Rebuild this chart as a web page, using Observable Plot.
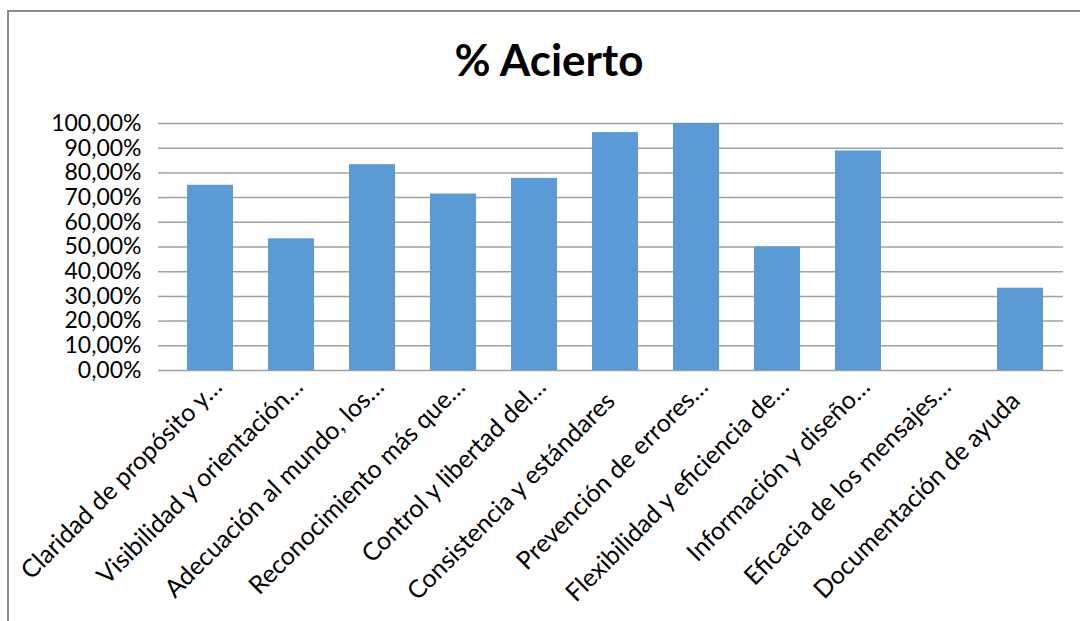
<!DOCTYPE html>
<html>
<head>
<meta charset="utf-8">
<script src="https://cdn.jsdelivr.net/npm/d3@7"></script>
<script src="https://cdn.jsdelivr.net/npm/@observablehq/plot@0.6"></script>
<style>
  html, body { margin: 0; padding: 0; background: #fff; }
  body { width: 1080px; height: 621px; position: relative; overflow: hidden; font-family: Lato, "Open Sans", sans-serif; }
  #border { position: absolute; left: 7px; top: 10px; width: 1080px; height: 620px;
            border-top: 2px solid #8c8c8c; border-left: 2px solid #8c8c8c; pointer-events: none; box-sizing: border-box; }
  #title { position: relative; height: 100px; }
  #title span { position: absolute; top: 33px; left: 549px; transform: translateX(-50%);
                font: bold 44px/53px Lato, sans-serif; color: #000; white-space: nowrap; }
  #chart svg { display: block; }
</style>
</head>
<body>
<div id="title"><span>% Acierto</span></div>
<div id="chart"></div>
<div id="border"></div>
<script>
const categories = [
  "Claridad de propósito y…",
  "Visibilidad y orientación…",
  "Adecuación al mundo, los…",
  "Reconocimiento más que…",
  "Control y libertad del…",
  "Consistencia y estándares",
  "Prevención de errores…",
  "Flexibilidad y eficiencia de…",
  "Información y diseño…",
  "Eficacia de los mensajes…",
  "Documentación de ayuda"
];
const values = [0.75, 0.5333, 0.8333, 0.7143, 0.7778, 0.963, 1.0, 0.5, 0.8889, 0, 0.3333];
const yTicks = [0, 0.1, 0.2, 0.3, 0.4, 0.5, 0.6, 0.7, 0.8, 0.9, 1.0];

const data = categories.map((c, i) => ({category: c, value: values[i]}));
const truncated = data.filter(d => d.category.endsWith("…"));
const full = data.filter(d => !d.category.endsWith("…"));
const fmt = d => (d * 100).toFixed(2).replace(".", ",") + "%";
const gridColor = "#a0a0a0";

const chart = Plot.plot({
  width: 1080,
  height: 521,
  marginLeft: 167,
  marginRight: 17,
  marginTop: 23,
  marginBottom: 251,
  style: {fontFamily: "Lato, sans-serif", color: "#000", background: "#fff"},
  x: {domain: categories, paddingInner: 0.43, paddingOuter: 0.215, axis: null},
  y: {domain: [0, 1], axis: null},
  marks: [
    Plot.gridY(yTicks, {stroke: gridColor, strokeOpacity: 1, strokeWidth: 1.5}),
    Plot.axisY(yTicks, {label: null, tickSize: 9, tickPadding: 17, tickFormat: fmt, fontSize: 23, stroke: gridColor, strokeWidth: 1.5, fill: "#000"}),
    Plot.ruleX([0], {frameAnchor: "left", y1: 0, y2: 1, stroke: gridColor, strokeWidth: 1.5}),
    Plot.barY(data, {x: "category", y: "value", fill: "#5B9BD5"}),
    Plot.text(full, {x: "category", text: "category", frameAnchor: "bottom", rotate: -45, textAnchor: "end",
                     fontSize: 25, fill: "#000", dx: 1, dy: 32}),
    Plot.text(truncated, {x: "category", text: "category", frameAnchor: "bottom", rotate: -45, textAnchor: "end",
                          fontSize: 25, fill: "#000", dx: 13, dy: 18})
  ]
});
document.getElementById("chart").appendChild(chart);
</script>
</body>
</html>
